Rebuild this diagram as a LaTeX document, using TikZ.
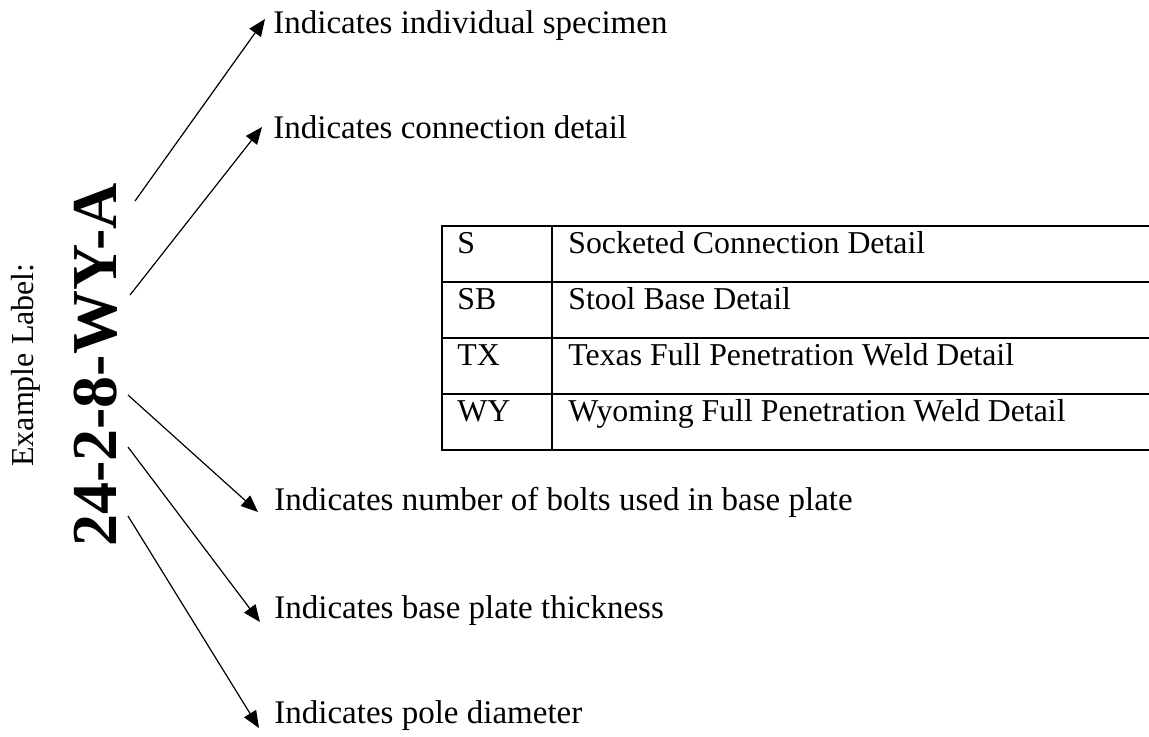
\documentclass[tikz,border=0pt]{standalone}
\usepackage{fontspec}
\setmainfont{Liberation Serif}
\usetikzlibrary{arrows.meta,positioning}

\begin{document}
\begin{tikzpicture}[x=0.5pt, y=-0.5pt,
    note/.style={anchor=base west, inner sep=0pt, font=\fontsize{16.5}{20}\selectfont},
    cell/.style={anchor=base west, inner sep=0pt, font=\fontsize{15.9}{18}\selectfont},
    pointer/.style={-{Triangle[length=8.5pt,width=7pt]}, line width=0.6pt},
    rule/.style={line width=0.65pt}
]
\useasboundingbox (0,0) rectangle (1149,736);

\node[rotate=90, font=\fontsize{16}{19}\selectfont] (lbl) at (25.6,365) {Example Label:};
\node[rotate=90, inner sep=0pt, font=\fontsize{32}{36}\selectfont\bfseries] (code) at (95.5,365) {24-2-8-WY-A};

\node[note] (d1) at (273,33) {Indicates individual specimen};
\node[note] (d2) at (273,138) {Indicates connection detail};
\node[note] (d3) at (274,510) {Indicates number of bolts used in base plate};
\node[note] (d4) at (274,618) {Indicates base plate thickness};
\node[note] (d5) at (274,723) {Indicates pole diameter};

\coordinate (s1) at (135,201);
\coordinate (s2) at (130,295);
\coordinate (s3) at (128,395);
\coordinate (s4) at (128,447);
\coordinate (s5) at (128,516);

\draw[pointer] (s1) -- ([shift={(-8,-14)}]d1.base west);
\draw[pointer] (s2) -- ([shift={(-11,-11)}]d2.base west);
\draw[pointer] (s3) -- ([shift={(-16,2)}]d3.base west);
\draw[pointer] (s4) -- ([shift={(-14,4)}]d4.base west);
\draw[pointer] (s5) -- ([shift={(-15,5)}]d5.base west);

\draw[rule] (1149,226) -- (442,226) -- (442,450) -- (1149,450);
\draw[rule] (442,282) -- (1149,282);
\draw[rule] (442,338) -- (1149,338);
\draw[rule] (442,394) -- (1149,394);
\draw[rule] (552,226) -- (552,450);

\node[cell] (k1) at (457,253) {S};
\node[cell] (k2) at (457,309) {SB};
\node[cell] (k3) at (457,365) {TX};
\node[cell] (k4) at (457,421) {WY};
\node[cell] (v1) at (568,253) {Socketed Connection Detail};
\node[cell] (v2) at (568,309) {Stool Base Detail};
\node[cell] (v3) at (568,365) {Texas Full Penetration Weld Detail};
\node[cell] (v4) at (568,421) {Wyoming Full Penetration Weld Detail};
\end{tikzpicture}
\end{document}
